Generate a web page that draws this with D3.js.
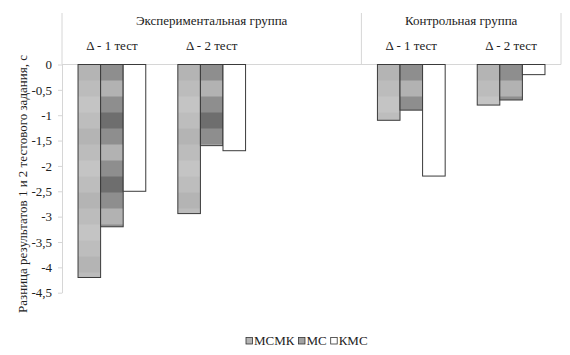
<!DOCTYPE html>
<html>
<head>
<meta charset="utf-8">
<script src="https://cdn.jsdelivr.net/npm/d3@7"></script>
<style>
  body { margin: 0; background: #fff; }
</style>
</head>
<body>
<div id="chart"></div>
<script>
// data
var groups = ["Экспериментальная группа", "Контрольная группа"];
var categories = ["Δ - 1 тест", "Δ - 2 тест", "", "Δ - 1 тест", "Δ - 2 тест"];
var categoryGroup = [0, 0, 0, 1, 1];
var series = ["МСМК", "МС", "КМС"];
var mcmk = [-4.2, -2.94, null, -1.1, -0.8];
var mc   = [-3.2, -1.6, null, -0.9, -0.7];
var kmc  = [-2.5, -1.7, null, -2.2, -0.2];
var yTicks = [0, -0.5, -1, -1.5, -2, -2.5, -3, -3.5, -4, -4.5];
var yTitle = "Разница результатов 1 и 2 тестового задания, с";

var values = [mcmk, mc, kmc];

var FONT = "Liberation Serif";
var W = 570, H = 355;
var margin = {top: 13, left: 62, right: 9};
var plotRight = W - margin.right;

var svg = d3.select("#chart").append("svg")
  .attr("width", W).attr("height", H);

var defs = svg.append("defs");

var x0 = d3.scaleBand()
  .domain(d3.range(categories.length))
  .range([margin.left, plotRight])
  .padding(0);

var x1 = d3.scaleBand()
  .domain(series)
  .range([0, x0.bandwidth()])
  .paddingInner(0)
  .paddingOuter(0.71);

var y = d3.scaleLinear()
  .domain([0, -4.5])
  .range([64.5, 292.7]);

// patterns (fills look like a blocky grey texture)
function blockPattern(id, cols, colors, widths) {
  var p = defs.append("pattern")
    .attr("id", id)
    .attr("patternUnits", "userSpaceOnUse")
    .attr("x", 0).attr("y", y(0))
    .attr("width", d3.sum(widths)).attr("height", 16 * colors.length / cols);
  var rows = colors.length / cols;
  for (var r = 0; r < rows; r++) {
    var xx = 0;
    for (var c = 0; c < cols; c++) {
      p.append("rect")
        .attr("x", xx).attr("y", r * 16)
        .attr("width", widths[c]).attr("height", 16)
        .attr("fill", colors[r * cols + c]);
      xx += widths[c];
    }
  }
}
blockPattern("pMCMK", 2,
  ["#bababa", "#b4b4b4", "#c2c2c2", "#bcbcbc", "#bdbdbd", "#c4c4c4", "#b6b6b6", "#bdbdbd"],
  [16, 84]);
blockPattern("pMC", 1, ["#8e8e8e", "#b2b2b2", "#8e8e8e", "#6e6e6e"], [100]);

var fills = ["url(#pMCMK)", "url(#pMC)", "#ffffff"];

// frame lines
var lineColor = "#d6d6d6";
svg.append("line")
  .attr("x1", margin.left).attr("x2", plotRight)
  .attr("y1", y(0)).attr("y2", y(0))
  .attr("stroke", lineColor);
svg.append("line")
  .attr("x1", plotRight).attr("x2", plotRight)
  .attr("y1", margin.top).attr("y2", y(0))
  .attr("stroke", lineColor);
svg.append("line")
  .attr("x1", x0(3)).attr("x2", x0(3))
  .attr("y1", margin.top).attr("y2", y(0))
  .attr("stroke", lineColor);
svg.append("line")
  .attr("x1", margin.left).attr("x2", margin.left)
  .attr("y1", margin.top).attr("y2", y(0))
  .attr("stroke", lineColor);

// y axis
var yAxis = svg.append("g")
  .attr("transform", "translate(" + margin.left + ",0)")
  .call(d3.axisLeft(y).tickValues(yTicks).tickSize(4).tickPadding(6)
    .tickSizeOuter(0)
    .tickFormat(function(d) { return d === 0 ? "0" : String(d).replace(".", ","); }));
yAxis.attr("font-family", null).attr("font-size", null);
yAxis.select(".domain").attr("stroke", lineColor);
yAxis.selectAll(".tick line").attr("stroke", lineColor);
yAxis.selectAll(".tick text")
  .style("font-family", FONT)
  .style("font-size", "13px").attr("fill", "#222");

// bars
var barG = svg.append("g");
categories.forEach(function(cat, i) {
  series.forEach(function(s, k) {
    var v = values[k][i];
    if (v == null) return;
    barG.append("rect")
      .attr("x", x0(i) + x1(s))
      .attr("y", y(0))
      .attr("width", x1.bandwidth())
      .attr("height", y(v) - y(0))
      .attr("fill", fills[k])
      .attr("stroke", "#3a3a3a")
      .attr("stroke-width", 1);
  });
});

// category labels
svg.append("g").selectAll("text")
  .data(categories)
  .enter().append("text")
    .attr("x", function(d, i) { return x0(i) + x0.bandwidth() / 2; })
    .attr("y", 50)
    .attr("text-anchor", "middle")
    .attr("fill", "#222")
    .style("font-family", FONT)
    .style("font-size", "13px")
    .text(function(d) { return d; });

// group labels
svg.append("g").selectAll("text")
  .data(groups)
  .enter().append("text")
    .attr("x", function(d, g) {
      var idx = d3.range(categories.length).filter(function(i) { return categoryGroup[i] === g; });
      return (x0(idx[0]) + x0(idx[idx.length - 1]) + x0.bandwidth()) / 2;
    })
    .attr("y", 25)
    .attr("text-anchor", "middle")
    .attr("fill", "#222")
    .style("font-family", FONT)
    .style("font-size", "13px")
    .text(function(d) { return d; });

// y title
svg.append("text")
  .attr("transform", "translate(27,184) rotate(-90)")
  .attr("text-anchor", "middle")
  .attr("fill", "#222")
  .style("font-family", FONT)
  .style("font-size", "13px")
  .text(yTitle);

// legend
var legendFills = ["#b5b5b5", "#a3a3a3", "#ffffff"];
var legend = svg.append("g").attr("transform", "translate(246,345)");
var lx = 0;
series.forEach(function(s, k) {
  legend.append("rect")
    .attr("x", lx).attr("y", -7.5)
    .attr("width", 6.5).attr("height", 6.5)
    .attr("fill", legendFills[k])
    .attr("stroke", "#333").attr("stroke-width", 0.8);
  var t = legend.append("text")
    .attr("x", lx + 8).attr("y", 0)
    .attr("fill", "#222")
    .style("font-family", FONT)
    .style("font-size", "13px")
    .text(s);
  lx += 8 + t.node().getComputedTextLength() + 4;
});
</script>
</body>
</html>
